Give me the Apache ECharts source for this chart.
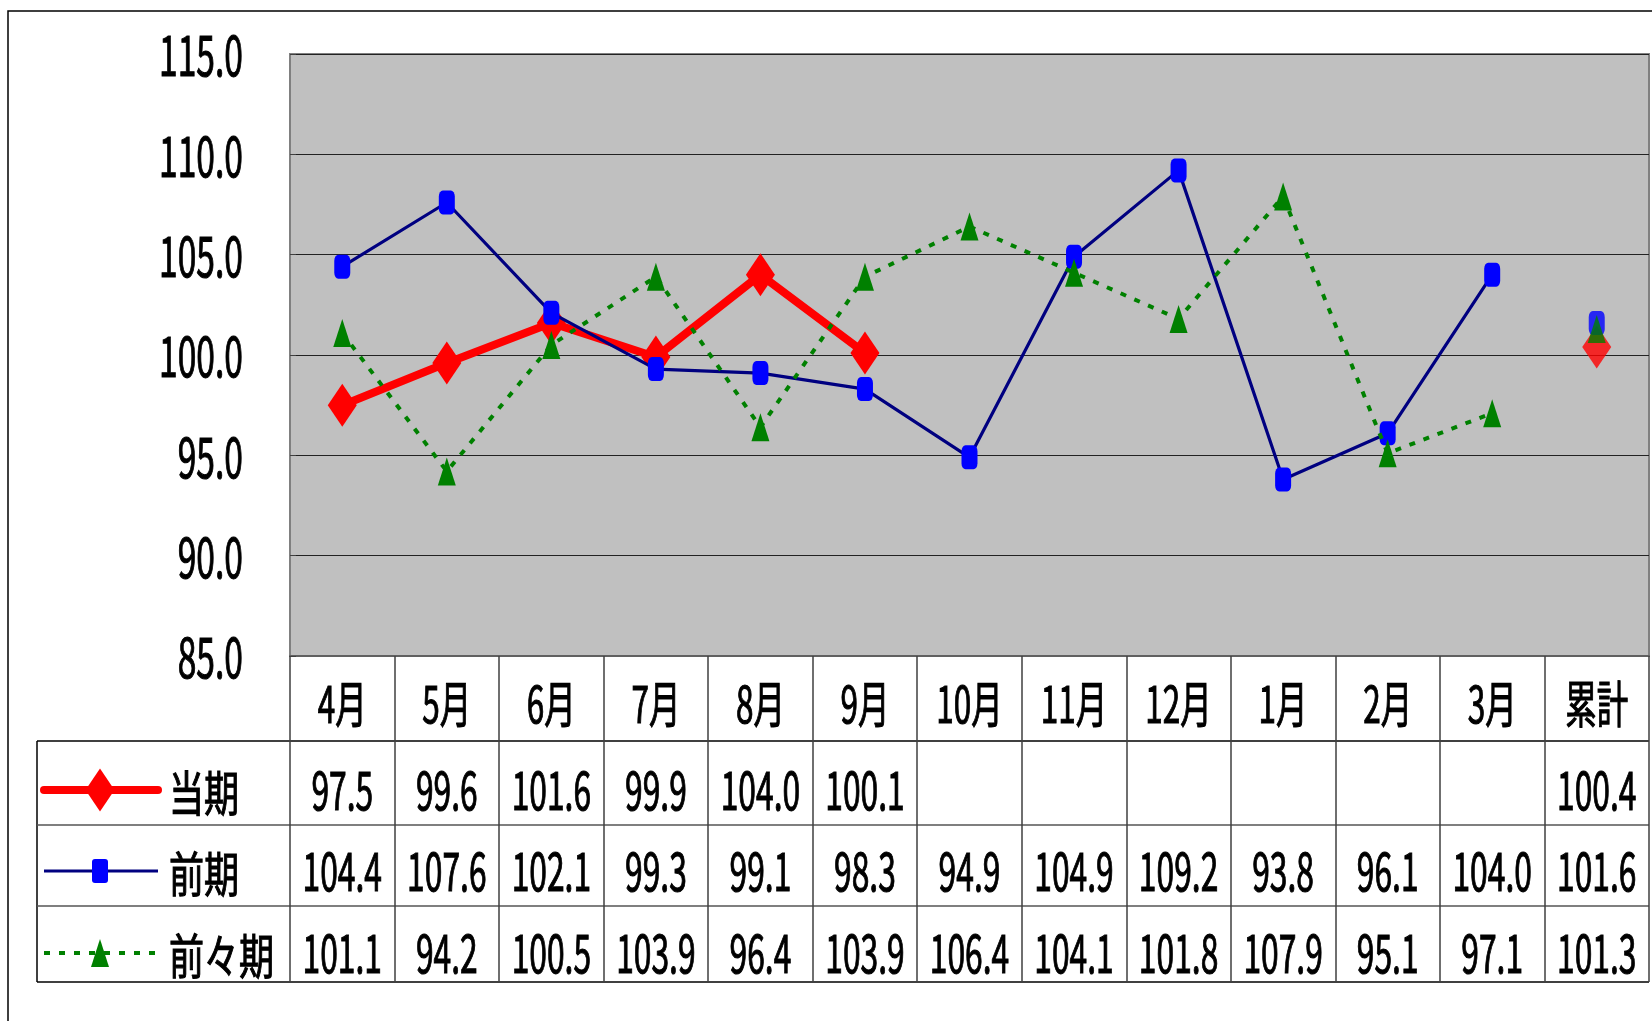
<!DOCTYPE html>
<html>
<head>
<meta charset="utf-8">
<script src="https://cdn.jsdelivr.net/npm/echarts@6/dist/echarts.min.js"></script>
<style>
  html, body { margin: 0; padding: 0; background: #fff; }
  #main { width: 1652px; height: 1021px; }
</style>
</head>
<body>
<div id="main"></div>
<script>
var months = ['4月', '5月', '6月', '7月', '8月', '9月', '10月', '11月', '12月', '1月', '2月', '3月', '累計'];
var seriesNames = ['当期', '前期', '前々期'];
var touki = [97.5, 99.6, 101.6, 99.9, 104.0, 100.1, null, null, null, null, null, null, 100.4];
var zenki = [104.4, 107.6, 102.1, 99.3, 99.1, 98.3, 94.9, 104.9, 109.2, 93.8, 96.1, 104.0, 101.6];
var zenzenki = [101.1, 94.2, 100.5, 103.9, 96.4, 103.9, 106.4, 104.1, 101.8, 107.9, 95.1, 97.1, 101.3];
var yTicks = [85, 90, 95, 100, 105, 110, 115];

var rows = [touki, zenki, zenzenki];

// 見た目の設定
var styles = [
	{ line: { color: '#ff0000', width: 8, cap: 'round' }, symbol: 'diamond', size: [29, 43], fill: '#ff0000' },
	{ line: { color: '#000080', width: 3.2 }, symbol: 'roundRect', size: [16, 24], fill: '#0000ff' },
	{ line: { color: '#008000', width: 4, type: [6, 9] }, symbol: 'triangle', size: [18, 28], fill: '#008000' }
];
var font = "'Noto Sans CJK JP', sans-serif";

// レイアウト
var plotLeft = 290, plotRight = 1649, plotTop = 54, plotBottom = 656;
var tableLeft = 37, tableBottom = 982;
var rowLines = [741, 825, 906];
var rowCenters = [790, 871, 953];
var catCenter = 704;

function fmt(v) {
	return v == null ? '' : v.toFixed(1);
}

var series = [];
rows.forEach(function (arr, i) {
	var st = styles[i];
	series.push({
		name: seriesNames[i],
		type: 'line',
		data: arr.map(function (v, k) { return (k < 12 && v != null) ? v : '-'; }),
		symbol: st.symbol,
		symbolSize: st.size,
		showSymbol: true,
		showAllSymbol: true,
		connectNulls: false,
		lineStyle: st.line,
		itemStyle: { color: st.fill, borderWidth: 0 },
		z: 2 + i
	});
	// 累計は線でつながない
	series.push({
		name: seriesNames[i],
		type: 'scatter',
		data: arr.map(function (v, k) { return k === 12 ? v : '-'; }),
		symbol: st.symbol,
		symbolSize: st.size,
		itemStyle: { color: st.fill },
		z: 2 + i
	});
});

var chart = echarts.init(document.getElementById('main'), null, { renderer: 'canvas' });
chart.setOption({
	animation: false,
	backgroundColor: '#fff',
	grid: {
		left: plotLeft,
		right: 1652 - plotRight,
		top: plotTop,
		bottom: 1021 - plotBottom,
		show: true,
		backgroundColor: '#c0c0c0',
		borderColor: '#808080',
		borderWidth: 2,
		containLabel: false,
		outerBoundsMode: 'none'
	},
	xAxis: {
		type: 'category',
		data: months,
		axisLine: { show: true, lineStyle: { color: '#606060', width: 2 } },
		axisTick: { show: true, interval: 0, length: tableBottom - plotBottom, lineStyle: { color: '#404040', width: 1.5 } },
		axisLabel: { show: false },
		splitLine: { show: false }
	},
	yAxis: {
		type: 'value',
		min: yTicks[0],
		max: yTicks[yTicks.length - 1],
		interval: yTicks[1] - yTicks[0],
		axisLine: { show: true, lineStyle: { color: '#808080', width: 2 } },
		axisTick: { show: true, inside: true, length: 6, lineStyle: { color: '#404040' } },
		axisLabel: { show: false },
		splitLine: { show: true, lineStyle: { color: '#222', width: 1.2 } }
	},
	series: series
});

// 目盛と表の文字は縦長なので graphic で横に縮めて描く
function label(text, x, y, size, align, sx) {
	return {
		type: 'text',
		x: x, y: y,
		scaleX: sx,
		silent: true,
		style: {
			text: text, fontSize: size, fontFamily: font, fill: '#000',
			stroke: '#000', lineWidth: 1.1,
			textAlign: align, align: align, verticalAlign: 'middle', textVerticalAlign: 'middle'
		}
	};
}

var graphics = [{
	type: 'rect',
	shape: { x: 8, y: 11, width: 1700, height: 1100 },
	style: { fill: 'none', stroke: '#000', lineWidth: 1.5 },
	silent: true
}];
graphics.push({ type: 'line', shape: { x1: tableLeft, y1: rowLines[0], x2: tableLeft, y2: tableBottom }, style: { stroke: '#000', lineWidth: 1.5 } });
rowLines.concat([tableBottom]).forEach(function (y, i) {
	graphics.push({
		type: 'line',
		shape: { x1: tableLeft, y1: y, x2: plotRight, y2: y },
		style: { stroke: (i === 1 || i === 2) ? '#555' : '#000', lineWidth: 1.5 }
	});
});

// y軸の目盛ラベル
yTicks.forEach(function (v) {
	var py = chart.convertToPixel({ yAxisIndex: 0 }, v);
	graphics.push(label(v.toFixed(1), 243, py + 1, 56, 'right', 0.6));
});

// 月と数値
months.forEach(function (m, k) {
	var px = chart.convertToPixel({ xAxisIndex: 0 }, m);
	graphics.push(label(m, px, catCenter, 50, 'center', 0.63));
	rows.forEach(function (arr, i) {
		if (arr[k] != null) graphics.push(label(fmt(arr[k]), px, rowCenters[i], 53, 'center', 0.6));
	});
});

// 凡例
rowCenters.forEach(function (cy, i) {
	var st = styles[i];
	var cx = 100;
	graphics.push({
		type: 'line',
		shape: { x1: 44, y1: cy, x2: 158, y2: cy },
		style: { stroke: st.line.color, lineWidth: st.line.width, lineDash: st.line.type || null, lineCap: st.line.cap || 'butt' }
	});
	var w = st.size[0] / 2, h = st.size[1] / 2;
	if (st.symbol === 'diamond') {
		graphics.push({ type: 'polygon', shape: { points: [[cx, cy - h], [cx + w, cy], [cx, cy + h], [cx - w, cy]] }, style: { fill: st.fill } });
	} else if (st.symbol === 'triangle') {
		graphics.push({ type: 'polygon', shape: { points: [[cx, cy - h], [cx + w, cy + h], [cx - w, cy + h]] }, style: { fill: st.fill } });
	} else {
		graphics.push({ type: 'rect', shape: { x: cx - w, y: cy - h, width: w * 2, height: h * 2, r: 3 }, style: { fill: st.fill } });
	}
	graphics.push(label(seriesNames[i], 169, cy + 3, 48, 'left', 0.73));
});

chart.setOption({ graphic: graphics });
</script>
</body>
</html>
